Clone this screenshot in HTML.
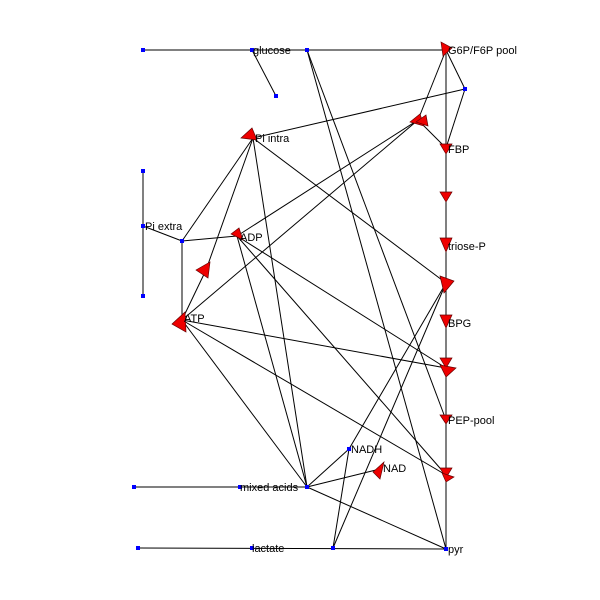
<!DOCTYPE html>
<html><head><style>html,body{margin:0;padding:0;background:#fff}svg{display:block}text{font-family:"Liberation Sans",sans-serif;font-size:11px;fill:#000}</style></head><body>
<svg width="600" height="600" viewBox="0 0 600 600">
<g stroke="#000" stroke-width="1" fill="none">
<line x1="143" y1="50" x2="446" y2="50"/>
<line x1="252" y1="50" x2="276" y2="96"/>
<line x1="307" y1="50" x2="446" y2="549"/>
<line x1="307" y1="50" x2="446" y2="420"/>
<line x1="446" y1="50" x2="465" y2="89"/>
<line x1="465" y1="89" x2="446" y2="148"/>
<line x1="465" y1="89" x2="253" y2="138"/>
<line x1="446" y1="50" x2="418" y2="120"/>
<line x1="418" y1="120" x2="446" y2="148"/>
<line x1="418" y1="120" x2="182" y2="320"/>
<line x1="418" y1="120" x2="237" y2="236"/>
<line x1="446" y1="50" x2="446" y2="549"/>
<line x1="253" y1="138" x2="182" y2="241"/>
<line x1="253" y1="138" x2="206" y2="270"/>
<line x1="253" y1="138" x2="307" y2="487"/>
<line x1="253" y1="138" x2="446" y2="283"/>
<line x1="143" y1="171" x2="143" y2="296"/>
<line x1="143" y1="226" x2="182" y2="241"/>
<line x1="182" y1="241" x2="237" y2="236"/>
<line x1="182" y1="241" x2="182" y2="320"/>
<line x1="206" y1="270" x2="182" y2="320"/>
<line x1="237" y1="236" x2="307" y2="487"/>
<line x1="237" y1="236" x2="446" y2="368"/>
<line x1="237" y1="236" x2="446" y2="475"/>
<line x1="182" y1="320" x2="446" y2="368"/>
<line x1="182" y1="320" x2="446" y2="475"/>
<line x1="182" y1="320" x2="307" y2="487"/>
<line x1="307" y1="487" x2="349" y2="449"/>
<line x1="307" y1="487" x2="380" y2="469"/>
<line x1="307" y1="487" x2="446" y2="549"/>
<line x1="349" y1="449" x2="446" y2="283"/>
<line x1="349" y1="449" x2="333" y2="548"/>
<line x1="333" y1="548" x2="446" y2="283"/>
<line x1="134" y1="487" x2="307" y2="487"/>
<line x1="138" y1="548" x2="446" y2="549"/>
</g>
<g fill="#e00" stroke="#600" stroke-width="0.7">
<polygon points="441,42 452,48 443,56"/>
<polygon points="410,122 420,114 424,126"/>
<polygon points="416,122 426,115 428,126"/>
<polygon points="440,144 452,144 446,154"/>
<polygon points="440,192 452,192 446,202"/>
<polygon points="440,238 452,238 446,252"/>
<polygon points="440,276 454,281 444,293"/>
<polygon points="440,315 452,315 446,328"/>
<polygon points="440,358 452,358 446,368"/>
<polygon points="440,365 456,368 446,377"/>
<polygon points="440,415 452,415 446,424"/>
<polygon points="440,468 452,468 446,478"/>
<polygon points="442,473 454,477 446,482"/>
<polygon points="241,138 252,128 257,140"/>
<polygon points="231,234 239,228 243,240"/>
<polygon points="196,270 210,262 208,278"/>
<polygon points="172,324 185,312 186,332"/>
<polygon points="373,472 384,462 380,479"/>
</g>
<g fill="#00f">
<rect x="141" y="48" width="4" height="4"/><rect x="250" y="48" width="4" height="4"/>
<rect x="305" y="48" width="4" height="4"/><rect x="463" y="87" width="4" height="4"/>
<rect x="274" y="94" width="4" height="4"/><rect x="141" y="169" width="4" height="4"/>
<rect x="141" y="224" width="4" height="4"/><rect x="141" y="294" width="4" height="4"/>
<rect x="180" y="239" width="4" height="4"/><rect x="347" y="447" width="4" height="4"/>
<rect x="305" y="485" width="4" height="4"/><rect x="132" y="485" width="4" height="4"/>
<rect x="238" y="485" width="4" height="4"/><rect x="136" y="546" width="4" height="4"/>
<rect x="250" y="546" width="4" height="4"/><rect x="331" y="546" width="4" height="4"/>
<rect x="444" y="547" width="4" height="4"/>
</g>
<text x="253" y="54">glucose</text>
<text x="448" y="54">G6P/F6P pool</text>
<text x="255" y="142">Pi intra</text>
<text x="448" y="153">FBP</text>
<text x="145" y="230">Pi extra</text>
<text x="240" y="241">ADP</text>
<text x="448" y="250">triose-P</text>
<text x="184" y="322">ATP</text>
<text x="448" y="327">BPG</text>
<text x="448" y="424">PEP-pool</text>
<text x="351" y="453">NADH</text>
<text x="383" y="472">NAD</text>
<text x="240" y="491">mixed acids</text>
<text x="252" y="552">lactate</text>
<text x="448" y="553">pyr</text>
</svg>
</body></html>
